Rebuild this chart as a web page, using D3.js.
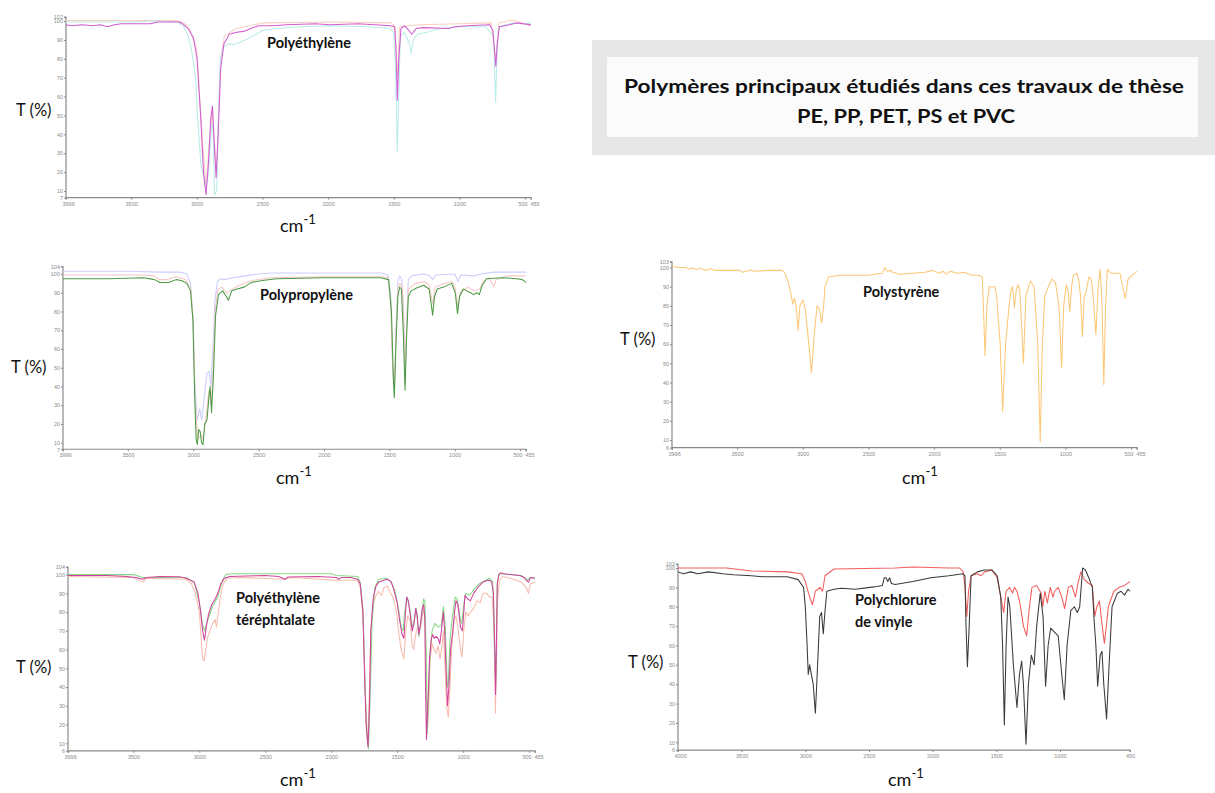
<!DOCTYPE html>
<html><head><meta charset="utf-8">
<script src="https://cdn.jsdelivr.net/npm/d3@7"></script>
<style>body{margin:0;background:#fff;} svg{display:block;font-family:Lato,"Open Sans",sans-serif;}</style>
</head><body>
<svg id="chart" width="1215" height="793"></svg>
<script>
// ---------- DATA (wavenumber cm-1, transmittance %) ----------
const peMagenta = [[3996,98],[3955,97.5],[3873,98],[3791,97.5],[3736,98],[3682,97],[3627,98],[3572,98.5],[3353,98.5],[3299,99.5],[3135,99.5],[3107,98.5],[3066,96],[3025,91],[2998,80],[2971,50],[2949,20],[2930,8],[2911,25],[2894,48],[2881,55],[2867,35],[2853,17],[2837,40],[2818,75],[2793,88],[2752,93],[2697,94],[2643,94.5],[2588,96],[2533,97.5],[2424,97.5],[2315,98],[2096,98.5],[1987,98],[1768,98.5],[1522,97.5],[1494,97],[1483,85],[1473,58],[1462,80],[1445,96],[1418,97.5],[1385,95],[1364,93],[1330,96],[1276,96.5],[1084,96],[1030,97],[948,97.5],[770,98],[745,95],[734,85],[723,76],[712,88],[696,97],[620,98],[565,99],[455,98]];
const peCyan = [[3996,99.5],[3500,99.5],[3300,100],[3150,99.5],[3100,97],[3066,92],[3040,85],[3010,70],[2990,45],[2970,25],[2950,18],[2930,12],[2910,20],[2890,42],[2878,46],[2865,8],[2848,10],[2835,50],[2820,80],[2800,86],[2760,88],[2720,87.5],[2680,88.5],[2600,91],[2550,93],[2500,95],[2400,96],[2200,97],[2000,97.5],[1700,97],[1530,96],[1500,94],[1485,70],[1473,31],[1462,60],[1450,92],[1420,94],[1380,88],[1368,83],[1350,90],[1320,93],[1250,94],[1150,96],[1000,97],[800,97],[740,92],[725,57],[712,85],[700,97],[600,99],[520,98.5],[455,99]];
const peSalmon = [[3996,100.3],[3500,100.3],[3150,100.3],[3100,99],[3050,95],[3000,85],[2960,40],[2930,12],[2900,40],[2880,52],[2850,20],[2820,80],[2790,92],[2700,96],[2500,99],[2000,99.5],[1520,99],[1490,97],[1473,70],[1455,97],[1300,98],[1000,98.5],[760,99],[723,80],[700,99],[600,100.5],[520,99],[470,97.5],[455,98]];

const ppGreen = [[3996,97.5],[3653,97.5],[3378,98],[3296,97],[3255,95.5],[3186,95.5],[3131,97],[3090,96.5],[3049,95],[3021,91],[3002,75],[2989,35],[2978,12],[2969,9],[2958,17],[2947,16],[2936,10],[2925,9],[2912,20],[2895,22],[2879,35],[2871,40],[2860,26],[2846,45],[2829,78],[2807,89],[2774,91],[2747,88],[2731,86],[2706,91],[2665,92],[2610,93],[2555,95.5],[2472,96.5],[2363,97.5],[2006,98],[1731,98],[1567,98],[1506,97],[1484,80],[1470,45],[1462,34],[1451,60],[1435,88],[1421,93],[1408,92],[1394,70],[1380,38],[1369,65],[1355,88],[1333,91],[1292,92.5],[1237,94],[1196,92],[1182,85],[1169,78],[1155,88],[1133,92],[1086,93],[1023,95],[996,90],[979,79],[963,88],[935,92],[908,91],[880,90],[853,89],[831,90],[812,89],[790,94],[757,97.5],[633,98],[524,97.5],[483,97],[455,95.5]];
const ppLavender = [[3996,101.5],[3500,101.5],[3250,101],[3100,101],[3050,100],[3020,95],[3005,80],[2990,45],[2970,22],[2950,28],[2935,22],[2915,35],[2895,47],[2880,48],[2865,40],[2850,60],[2835,85],[2815,96],[2790,97.5],[2760,97],[2700,98],[2600,99],[2500,100],[2400,100.5],[2000,100.5],[1560,100.5],[1510,99.5],[1490,90],[1475,50],[1462,36],[1450,70],[1435,96],[1420,99],[1405,97],[1392,80],[1380,42],[1368,75],[1355,97],[1330,99],[1250,100],[1200,99.5],[1168,97],[1150,99.5],[1000,100],[975,96],[955,99.5],[850,99],[800,100],[700,101],[455,101]];
const ppPink = [[3996,99.5],[3400,99.5],[3300,99],[3260,97],[3200,97],[3130,98.5],[3060,97],[3020,92],[3000,75],[2985,30],[2965,12],[2940,14],[2925,12],[2900,25],[2880,38],[2862,30],[2845,55],[2830,82],[2810,92],[2780,93],[2745,90],[2720,91],[2650,94],[2550,96.5],[2400,98],[2000,98.5],[1560,98.5],[1510,98],[1490,85],[1475,50],[1462,38],[1450,65],[1435,92],[1420,95],[1400,93],[1390,75],[1380,42],[1369,70],[1355,92],[1300,95],[1230,96],[1195,94],[1168,84],[1150,93],[1100,94.5],[1020,96],[996,92],[976,82],[960,90],[900,93],[850,91],[810,92],[780,96],[740,98],[715,95],[700,93],[685,97],[600,99],[455,99]];

const petMagenta = [[3996,99.5],[3700,99.5],[3550,99],[3480,98.5],[3430,97.5],[3400,98.5],[3300,99],[3150,98.8],[3100,98],[3040,96],[3010,90],[2990,80],[2975,70],[2961,65],[2948,72],[2930,79],[2906,84],[2880,87],[2860,90],[2838,95],[2811,98],[2770,99],[2500,99.5],[2400,99],[2350,97.5],[2330,98.7],[2100,99],[1960,98.5],[1945,97.5],[1920,98.5],[1850,98.5],[1800,97.5],[1780,95],[1760,80],[1745,40],[1735,20],[1721,8],[1710,30],[1700,70],[1681,88],[1660,94],[1640,96],[1600,97],[1572,97.5],[1545,96],[1530,93],[1500,85],[1480,75],[1463,68],[1449,66],[1437,80],[1427,88],[1415,86],[1400,78],[1386,70],[1372,74],[1360,82],[1348,78],[1336,68],[1326,72],[1310,82],[1299,84],[1290,76],[1285,40],[1278,12],[1268,30],[1255,55],[1240,66],[1231,68],[1220,66],[1205,67],[1190,66],[1177,63],[1165,70],[1150,80],[1140,70],[1130,50],[1118,30],[1108,40],[1095,60],[1081,68],[1065,80],[1054,86],[1040,84],[1020,72],[1005,70],[995,80],[986,89],[965,87],[945,86],[920,90],[890,93],[850,96],[809,97],[785,96.5],[770,90],[760,60],[754,36],[748,60],[741,95],[730,100],[714,101],[690,100.5],[645,100],[570,99.5],[537,98.5],[515,96.5],[504,96],[490,98.5],[455,98]];
const petGreen = [[3996,100],[3500,100],[3430,98.5],[3100,98.5],[3040,96],[3000,85],[2975,73],[2961,70],[2940,75],[2900,83],[2860,88],[2830,96],[2800,100],[2750,100.5],[2000,100.5],[1960,99.5],[1800,99],[1780,96],[1760,82],[1745,45],[1730,15],[1718,7],[1705,35],[1690,75],[1670,93],[1640,97.5],[1580,98],[1545,96],[1520,92],[1490,82],[1470,72],[1455,70],[1440,82],[1425,88],[1400,80],[1386,72],[1372,75],[1355,82],[1336,67],[1320,75],[1300,87],[1290,86],[1280,60],[1272,15],[1262,35],[1250,60],[1235,70],[1215,74],[1190,72],[1165,73],[1150,83],[1135,72],[1120,40],[1112,42],[1100,65],[1080,78],[1060,88],[1045,87],[1020,76],[1010,74],[995,84],[980,90],[950,89],[920,92],[880,95],[830,97],[800,98],[775,96],[760,55],[754,40],[748,65],[741,96],[725,100.5],[650,100],[560,99.5],[510,97],[490,98.5],[455,98]];
const petSalmon = [[3996,99],[3500,98.5],[3430,96],[3400,98],[3100,97.5],[3060,95],[3030,90],[3000,80],[2985,65],[2975,55],[2965,54],[2955,58],[2940,66],[2920,70],[2900,74],[2880,76],[2870,72],[2860,78],[2840,88],[2820,95],[2790,98],[2700,98.5],[2350,97.5],[2300,98.5],[1960,97],[1800,97],[1780,93],[1760,80],[1745,45],[1735,20],[1725,10],[1712,35],[1700,70],[1680,85],[1660,89],[1640,91],[1620,89],[1600,93],[1575,94],[1550,90],[1530,88],[1505,80],[1490,70],[1470,60],[1449,55],[1435,70],[1420,78],[1400,75],[1386,62],[1375,60],[1360,68],[1345,72],[1330,70],[1315,75],[1300,82],[1290,76],[1280,40],[1270,18],[1260,30],[1250,55],[1235,63],[1220,60],[1205,58],[1190,62],[1175,55],[1160,62],[1150,70],[1140,55],[1125,30],[1112,24],[1100,40],[1085,62],[1070,75],[1055,78],[1040,72],[1020,60],[1008,56],[995,70],[980,80],[960,78],[945,80],[920,82],[895,86],[870,85],[850,90],[820,90],[800,88],[780,88],[765,70],[755,26],[748,50],[740,85],[725,97],[700,99],[640,98],[600,97],[560,96],[520,93],[505,90],[490,95],[455,96]];

const psOrange = [[3996,100.7],[3947,100],[3893,100],[3865,99.2],[3838,99.8],[3811,98.8],[3784,99.8],[3756,99],[3729,98.5],[3702,99.5],[3675,98.5],[3539,98.5],[3484,98.5],[3457,97.5],[3430,98],[3403,98.7],[3375,98],[3267,98.5],[3158,98.5],[3136,97],[3109,92],[3090,86],[3076,81],[3062,84],[3049,79],[3035,67],[3022,80],[3000,83],[2981,78],[2954,60],[2934,45],[2913,65],[2891,80],[2872,78],[2858,71],[2842,79],[2831,90],[2804,95],[2722,96],[2504,96],[2396,97],[2374,100],[2355,98],[2328,98.5],[2314,97.5],[2259,96.5],[2069,97.5],[2014,98.5],[1960,97],[1933,98],[1906,96.5],[1878,98],[1824,97],[1769,97.5],[1715,96],[1661,96],[1633,95],[1625,80],[1612,54],[1598,80],[1579,90],[1538,90],[1524,85],[1497,60],[1478,25],[1456,60],[1429,80],[1415,88],[1402,90],[1388,79],[1375,88],[1361,91],[1348,88],[1334,70],[1320,50],[1301,85],[1266,93],[1239,90],[1211,60],[1192,9],[1176,60],[1157,85],[1130,90],[1103,94],[1076,92],[1049,80],[1029,48],[1013,80],[994,91],[980,88],[967,77],[953,90],[939,96],[912,97],[898,93],[885,85],[871,64],[857,85],[844,87],[822,95],[803,94],[789,85],[768,65],[751,90],[735,99],[721,80],[708,39],[694,80],[681,99],[653,97],[585,97],[558,88],[544,84],[523,94],[490,96],[455,98]];

const pvcBlack = [[4000,98],[3958,97],[3901,98],[3845,97],[3761,98],[3648,97],[3563,96.5],[3423,96],[3338,95.5],[3141,95.5],[3056,94],[3014,90],[3000,80],[2986,60],[2977,45],[2966,50],[2955,46],[2938,40],[2921,25],[2907,45],[2887,75],[2873,77],[2859,66],[2845,78],[2831,88],[2775,89],[2718,89.5],[2606,89],[2493,90],[2437,90.5],[2394,91],[2380,95],[2366,95],[2352,93],[2338,95],[2324,92],[2296,91.5],[2155,93],[2014,95],[1873,96],[1760,97],[1746,96],[1738,70],[1727,49],[1713,70],[1698,96],[1648,98],[1592,99],[1535,99],[1493,96],[1465,85],[1451,60],[1437,19],[1423,60],[1408,85],[1394,80],[1366,50],[1338,28],[1318,45],[1301,52],[1287,40],[1267,9],[1248,40],[1225,55],[1203,50],[1183,70],[1155,87],[1133,75],[1113,39],[1093,60],[1073,69],[1045,67],[1014,65],[986,45],[966,32],[944,60],[915,78],[887,80],[864,77],[845,80],[822,100],[800,99],[774,95],[746,90],[732,73],[718,60],[704,39],[684,55],[670,57],[656,40],[634,22],[614,50],[591,80],[549,87],[521,88],[493,86],[465,89],[450,88]];
const pvcRed = [[4000,100],[3620,100],[3423,98.5],[3141,98],[3028,97],[3000,93],[2966,85],[2944,81],[2921,88],[2887,90],[2865,88],[2845,96],[2775,99.5],[2296,100],[2155,100.5],[1873,100],[1789,100],[1760,98],[1746,90],[1732,75],[1718,88],[1698,96],[1648,97],[1620,96],[1592,98],[1535,99],[1493,95],[1465,85],[1442,77],[1423,88],[1395,90],[1372,87],[1358,90],[1338,88],[1315,82],[1287,70],[1262,65],[1240,80],[1220,90],[1183,91],[1147,87],[1135,80],[1119,88],[1099,82],[1076,90],[1056,85],[1042,88],[1014,90],[986,85],[963,79],[935,90],[907,91],[879,85],[859,92],[836,98],[808,94],[774,92],[746,91],[727,75],[710,80],[690,83],[668,70],[651,61],[620,80],[577,88],[535,90],[493,91],[450,93]];

// tick values
const xTicks3996 = [3996,3500,3000,2500,2000,1500,1000,500,455];
const xTicks4000 = [4000,3500,3000,2500,2000,1500,1000,450];
const yTicksMain = [100,90,80,70,60,50,40,30,20,10];

const headerLines = ["Polymères principaux étudiés dans ces travaux de thèse","PE, PP, PET, PS et PVC"];

// ---------- LAYOUT ----------
const panels = [
  {x0:66,x1:531,wn:[3996,455],y100:21,y10:191,tMin:6.5,tMax:102,xTicks:xTicks3996,
   series:[[peSalmon,"#f8d0c2"],[peCyan,"#b8ece8"],[peMagenta,"#d35cd3"]],
   title:["Polyéthylène"],tx:267,ty:48,
   tLab:[16,116],cm:[280,232]},
  {x0:63,x1:526,wn:[3996,455],y100:274,y10:442.7,tMin:6.5,tMax:104,xTicks:xTicks3996,
   series:[[ppLavender,"#cdcdfc"],[ppPink,"#f6c6c6"],[ppGreen,"#4c9c44"]],
   title:["Polypropylène"],tx:260,ty:300,
   tLab:[11,373],cm:[276,484]},
  {x0:68,x1:535,wn:[3996,455],y100:574.6,y10:743.3,tMin:6,tMax:104,xTicks:xTicks3996,
   series:[[petSalmon,"#f7bcac"],[petGreen,"#84da84"],[petMagenta,"#d2449e"]],
   title:["Polyéthylène","téréphtalate"],tx:236,ty:603,
   tLab:[16,673],cm:[280,786]},
  {x0:672,x1:1137,wn:[3996,455],y100:267.5,y10:440,tMin:6,tMax:103,xTicks:xTicks3996,
   series:[[psOrange,"#fcc877"]],
   title:["Polystyrène"],tx:863,ty:297,
   tLab:[620,345],cm:[902,484]},
  {x0:678,x1:1130,wn:[4000,450],y100:568,y10:742.3,tMin:6,tMax:102,xTicks:xTicks4000,
   series:[[pvcRed,"#f45c5c"],[pvcBlack,"#3a3a3a"]],
   title:["Polychlorure","de vinyle"],tx:855,ty:605,
   tLab:[628,668],cm:[888,786]}
];

const svg = d3.select("#chart");

// header box
svg.append("rect").attr("x",592).attr("y",40).attr("width",623).attr("height",115).attr("fill","#e7e7e7");
svg.append("rect").attr("x",607).attr("y",57).attr("width",591).attr("height",80).attr("fill","#fbfbfb");
svg.append("text").attr("x",904).attr("y",93).attr("text-anchor","middle")
  .attr("font-size",19.5).attr("font-weight","bold").attr("fill","#111")
  .attr("textLength",560).attr("lengthAdjust","spacingAndGlyphs").text(headerLines[0]);
svg.append("text").attr("x",906).attr("y",123).attr("text-anchor","middle")
  .attr("font-size",19.5).attr("font-weight","bold").attr("fill","#111")
  .attr("textLength",218).attr("lengthAdjust","spacingAndGlyphs").text(headerLines[1]);

panels.forEach(p => {
  const g = svg.append("g");
  const x = d3.scaleLinear().domain(p.wn).range([p.x0,p.x1]);
  const y = d3.scaleLinear().domain([10,100]).range([p.y10,p.y100]);
  const yBot = y(p.tMin), yTop = y(p.tMax);

  // axes
  const xAxis = d3.axisBottom(x).tickValues(p.xTicks).tickSize(2).tickPadding(2).tickFormat(d3.format("d"));
  const gx = g.append("g").attr("transform",`translate(0,${yBot})`).call(xAxis);
  // keep the two close end labels (500 / 455) apart
  gx.selectAll(".tick text").attr("text-anchor", d => d===500 ? "end" : (d===455 ? "start" : (d===p.wn[0] ? "start" : "middle")))
    .attr("dx", d => d===500 ? 2 : (d===455 ? -1 : (d===p.wn[0] ? -4 : 0)));
  const yAxis = d3.axisLeft(y).tickValues([p.tMin].concat(yTicksMain,[p.tMax])).tickSize(2).tickPadding(1)
     .tickFormat(d => d3.format("d")(Math.round(d)));
  const gy = g.append("g").attr("transform",`translate(${p.x0},0)`).call(yAxis);
  gy.select(".domain").attr("d",`M-2,${yTop}H0V${yBot}`);
  gx.select(".domain").attr("d",`M${p.x0},2V0H${p.x1}V2`);
  [gx,gy].forEach(a=>{
    a.selectAll(".domain").attr("stroke","#8a8a8a").attr("stroke-width",1.2);
    a.selectAll(".tick line").attr("stroke","#8a8a8a");
    a.selectAll("text").attr("font-size",5.5).attr("fill","#8a8a8a").attr("font-family","Liberation Sans Narrow, Arial, sans-serif");
  });

  // series
  const line = d3.line().x(d=>x(d[0])).y(d=>y(d[1]));
  p.series.forEach(([data,color]) => {
    g.append("path").datum(data).attr("d",line).attr("fill","none")
      .attr("stroke",color).attr("stroke-width",1.05).attr("stroke-linejoin","round");
  });

  // title
  p.title.forEach((t,i)=>{
    g.append("text").attr("x",p.tx).attr("y",p.ty+i*22).attr("font-size",14.5).attr("font-weight","bold")
      .attr("fill","#111").text(t);
  });
  // T (%)
  g.append("text").attr("x",p.tLab[0]).attr("y",p.tLab[1]).attr("font-size",16.5).attr("fill","#111").text("T (%)");
  // cm-1
  const c = g.append("text").attr("x",p.cm[0]).attr("y",p.cm[1]).attr("font-size",18).attr("fill","#111");
  c.append("tspan").text("cm");
  c.append("tspan").attr("dy",-8).attr("font-size",13).text("-1");
});
</script>
</body></html>
